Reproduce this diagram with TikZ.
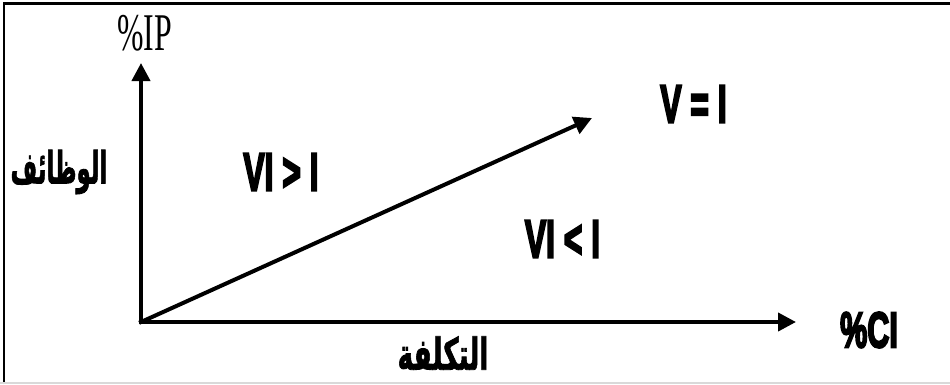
\documentclass[tikz,border=0pt]{standalone}
\usepackage{fontspec}
\newfontfamily\heavy[FakeBold=5]{Liberation Sans Bold}
\newfontfamily\arabicfont[Script=Arabic,FakeBold=2]{DejaVu Sans Bold}
\newfontfamily\serifont{Liberation Serif}
\TeXXeTstate=1
\usetikzlibrary{arrows.meta}
\begin{document}
\begin{tikzpicture}[x=1pt,y=-1pt,
  axis/.style={line width=4pt, line cap=rect, -{Triangle[length=18pt,width=18pt]}},
  cond/.style={font=\heavy\fontsize{53}{53}\selectfont, inner sep=0pt},
  ar/.style={font=\arabicfont\fontsize{44}{44}\selectfont, inner sep=0pt}]
\useasboundingbox (0,0) rectangle (950,384);
\draw[line width=2.5pt] (4,384) -- (4,3.5) -- (950,3.5);
\draw[black!15, line width=1.5pt] (0,383.2) -- (950,383.2);
\coordinate (O) at (141,322);
\coordinate (Y) at (141,63);
\coordinate (X) at (796,322);
\coordinate (D) at (592,118);
\draw[axis] (O) -- (Y);
\draw[axis] (O) -- (X);
\draw[axis] (O) -- (D);
\node[inner sep=0pt, font=\serifont\fontsize{53}{53}\selectfont] (ip) at (144.5,33) {\scalebox{0.6}[1]{\%IP}};
\node[cond] (gt) at (281,172) {\scalebox{0.6}[1]{VI > I}};
\node[cond] (eq) at (693.5,104) {\scalebox{0.6}[1]{V = I}};
\node[cond] (lt) at (562.5,239) {\scalebox{0.6}[1]{VI < I}};
\node[cond, font=\heavy\fontsize{50}{50}\selectfont] (ci) at (869,330) {\scalebox{0.61}[1]{\%CI}};
\node[ar] (wz) at (59,172) {\scalebox{0.52}[1]{الوظائف}};
\node[ar] (tk) at (443,353) {\scalebox{0.6}[1]{التكلفة}};
\end{tikzpicture}
\end{document}
